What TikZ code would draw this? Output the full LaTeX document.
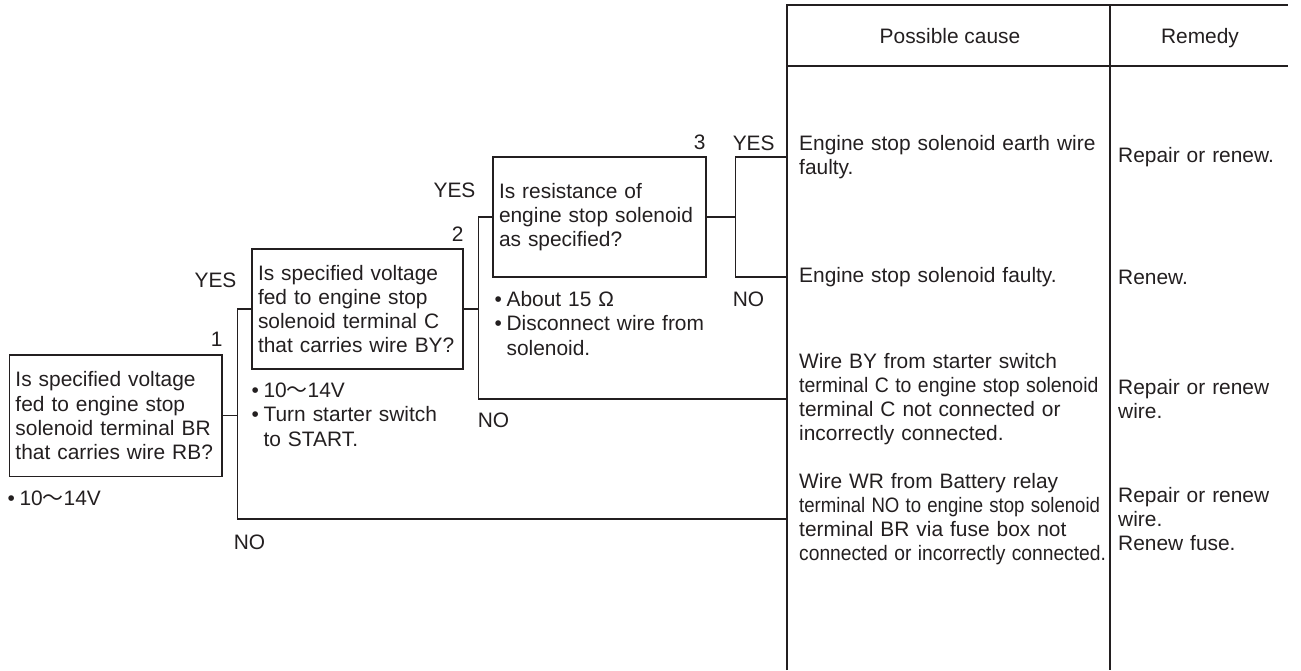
\documentclass[tikz,border=0pt]{standalone}
\usepackage{fontspec}
\setmainfont{Liberation Sans}
\newfontfamily\cjk{Noto Sans CJK JP}
\usetikzlibrary{calc}
\definecolor{InkClr}{HTML}{231F20}
\newcommand{\wave}{{\cjk ～}}
\newcommand{\bul}{\makebox[12pt][l]{•}}
\newcommand{\hang}{\hspace*{12pt}}
\newcommand{\squeeze}[2]{\scalebox{#1}[1]{#2}}

\begin{document}
\begin{tikzpicture}[x=1pt,y=-1pt,
  txt/.style={font=\fontsize{20.9}{24.2}\selectfont,text=InkClr,inner sep=0pt},
  qbox/.style={txt,draw=InkClr,line width=1.2pt,inner xsep=6pt,align=left},
  wire/.style={draw=InkClr,line width=1.2pt},
  cell/.style={txt,anchor=west,align=left}]
\useasboundingbox (0,0) rectangle (1301,670);

% table frame
\coordinate (top) at (787,5);
\coordinate (mid) at (1110,66);
\draw[wire] (787,670) -- (top) -- (1288,5);
\draw[wire] (mid |- top) -- (1110,670);
\draw[wire,line width=1.8pt] (787,66) -- (1288,66);
\node[txt,anchor=base] (hcause) at (950,43) {Possible cause};
\node[txt,anchor=base] (hremedy) at (1200,43) {Remedy};

% end points on the table
\coordinate (c1) at (787,157);
\coordinate (c2) at (787,277);
\coordinate (c3) at (787,399);
\coordinate (c4) at (787,519);

% question boxes
\node[qbox,minimum width=212.5pt,minimum height=121.5pt,text width=200.5pt] (q1) at (115.75,415.75)
  {Is specified voltage\\fed to engine stop\\solenoid terminal BR\\that carries wire RB?};
\node[qbox,minimum width=211pt,minimum height=120pt,text width=199pt] (q2) at (357.5,309)
  {Is specified voltage\\fed to engine stop\\solenoid terminal C\\that carries wire BY?};
\node[qbox,minimum width=213pt,minimum height=120pt,text width=201pt] (q3) at (599.5,217)
  {Is resistance of\\engine stop solenoid\\as specified?};

\node[txt,anchor=base east,yshift=8pt] (n1) at (q1.north east) {1};
\node[txt,anchor=base east,yshift=7pt] (n2) at (q2.north east) {2};
\node[txt,anchor=base east,xshift=-1pt,yshift=7pt] (n3) at (q3.north east) {3};

% check notes
\node[txt,anchor=base west,text width=200pt,align=left,xshift=-1.5pt,yshift=-28.5pt] (m1) at (q1.south west)
  {\bul 10\wave14V};
\node[txt,anchor=base west,text width=200pt,align=left,yshift=-28pt] (m2) at (q2.south west)
  {\bul 10\wave14V\\\bul Turn starter switch\\\hang to START.};
\node[txt,anchor=base west,text width=220pt,align=left,xshift=2pt,yshift=-29pt] (m3) at (q3.south west)
  {\bul About 15 Ω\\\bul Disconnect wire from\\\hang solenoid.};

% connectors
\coordinate (j1) at ([xshift=15pt]q1.east);
\coordinate (j2) at ([xshift=15pt]q2.east);
\coordinate (j3) at ([xshift=29pt]q3.east);
\draw[wire] (q1.east) -- (j1);
\draw[wire] (q2.west) -| (j1) |- (c4);
\draw[wire] (q2.east) -- (j2);
\draw[wire] (q3.west) -| (j2) |- (c3);
\draw[wire] (q3.east) -- (j3);
\draw[wire] (c1) -| (j3) |- (c2);

\node[txt,anchor=base east,xshift=-1pt,yshift=22pt] (yes1) at (j1 |- q2.west) {YES};
\node[txt,anchor=base west,xshift=-4pt,yshift=-30pt] (no1) at (j1 |- c4) {NO};
\node[txt,anchor=base east,xshift=-3pt,yshift=20pt] (yes2) at (j2 |- q3.west) {YES};
\node[txt,anchor=base west,xshift=-1pt,yshift=-28pt] (no2) at (j2 |- c3) {NO};
\node[txt,anchor=base west,xshift=-3pt,yshift=7pt] (yes3) at (j3 |- c1) {YES};
\node[txt,anchor=base west,xshift=-3pt,yshift=-29pt] (no3) at (j3 |- c2) {NO};

% causes and remedies
\node[cell,text width=310pt,xshift=12pt] (cause1) at (c1) {Engine stop solenoid earth wire\\faulty.};
\node[cell,text width=170pt,xshift=8pt] (rem1) at (c1 -| mid) {Repair or renew.};
\node[cell,text width=310pt,xshift=12pt] (cause2) at (c2) {Engine stop solenoid faulty.};
\node[cell,text width=170pt,xshift=8pt] (rem2) at (c2 -| mid) {Renew.};
\node[cell,text width=310pt,xshift=12pt] (cause3) at (c3)
  {Wire BY from starter switch\\\squeeze{0.93}{terminal C to engine stop solenoid}\\terminal C not connected or\\incorrectly connected.};
\node[cell,text width=170pt,xshift=8pt] (rem3) at (c3 -| mid) {Repair or renew\\wire.};
\node[cell,text width=310pt,xshift=12pt] (cause4) at (c4)
  {Wire WR from Battery relay\\\squeeze{0.89}{terminal NO to engine stop solenoid}\\terminal BR via fuse box not\\\squeeze{0.92}{connected or incorrectly connected.}};
\node[cell,text width=170pt,xshift=8pt] (rem4) at (c4 -| mid) {Repair or renew\\wire.\\Renew fuse.};

\end{tikzpicture}
\end{document}
